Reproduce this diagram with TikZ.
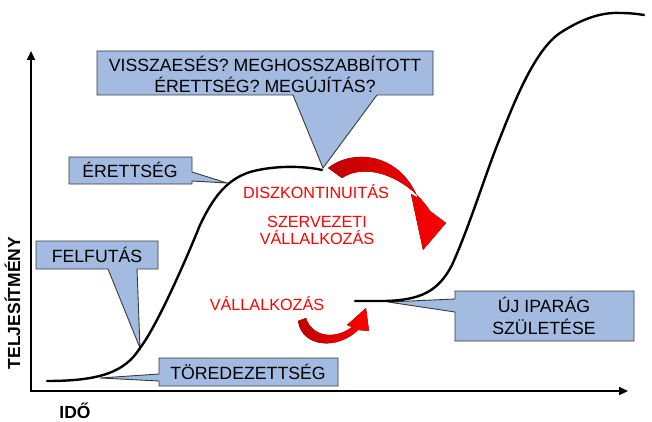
\documentclass[tikz,border=0pt]{standalone}
\usepackage{fontspec}
\setmainfont{Liberation Sans}
\usetikzlibrary{arrows.meta}
\definecolor{callfill}{HTML}{A3BBE0}
\definecolor{callline}{HTML}{3A3A3A}
\definecolor{darkred}{HTML}{C00000}
\begin{document}
\begin{tikzpicture}[x=1pt,y=-1pt,
  callout/.style={fill=callfill, draw=callline, line width=0.9pt, line join=miter},
  blk/.style={font=\fontsize{17.7}{21}\selectfont, anchor=base, inner sep=0pt},
  redtxt/.style={font=\fontsize{16.2}{19}\selectfont, text=red, anchor=base, inner sep=0pt},
  axislbl/.style={font=\bfseries\fontsize{17.5}{21}\selectfont, anchor=base, inner sep=0pt},
  axisline/.style={line width=2.2pt, {Triangle[length=9pt,width=8pt]}-{Triangle[length=9pt,width=8pt]}},
  lifecurve/.style={line width=2.4pt, line cap=round},
  redarrow/.style={left color=darkred, right color=red, draw=none}]
\useasboundingbox (0,0) rectangle (652,422);

% axes
\coordinate (O) at (31,391);
\coordinate (ytop) at (31,51);
\coordinate (xend) at (628,391);
\draw[axisline] (ytop) -- (O) -- (xend);
\node[axislbl, rotate=90] (ylbl) at (20,303) {TELJESÍTMÉNY};
\node[axislbl] (xlbl) at (75,418) {IDŐ};

% callouts
\coordinate (tipV) at (323,168);
\coordinate (tipE) at (227,183);
\coordinate (tipF) at (140,348);
\coordinate (tipT) at (100,378);
\coordinate (tipU) at (388,302);
\draw[callout] (97,51) -- (433,51) -- (433,95) -- (377,95) -- (tipV) -- (293,95) -- (97,95) -- cycle;
\draw[callout] (69,157) -- (192,157) -- (192,172) -- (tipE) -- (192,181) -- (192,184) -- (69,184) -- cycle;
\draw[callout] (36,241) -- (158,241) -- (158,269) -- (137,269) -- (tipF) -- (108,269) -- (36,269) -- cycle;
\draw[callout] (159,358) -- (338,358) -- (338,386) -- (159,386) -- (159,381) -- (tipT) -- (159,374) -- cycle;
\draw[callout] (455,291) -- (634,291) -- (634,341) -- (455,341) -- (455,312) -- (tipU) -- (455,299) -- cycle;

\node[blk] (v1) at (265,72) {VISSZAESÉS? MEGHOSSZABBÍTOTT};
\node[blk] (v2) at (265,93) {ÉRETTSÉG? MEGÚJÍTÁS?};
\node[blk] (er) at (130,177) {ÉRETTSÉG};
\node[blk] (fe) at (97,262) {FELFUTÁS};
\node[blk] (to) at (248,379) {TÖREDEZETTSÉG};
\node[blk] (u1) at (544,312) {ÚJ IPARÁG};
\node[blk] (u2) at (544,334) {SZÜLETÉSE};

% curves
\draw[lifecurve] (47,381) .. controls (100,381) and (125,372) .. (tipF)
  .. controls (158,325) and (190,250) .. (200,225)
  .. controls (212,200) and (225,180) .. (250,172)
  .. controls (275,165) and (305,166) .. (322,170);
\draw[lifecurve] (355,301) -- (385,301) .. controls (420,300) and (438,292) .. (452,265)
  .. controls (470,225) and (485,175) .. (500,138)
  .. controls (515,100) and (535,50) .. (560,33)
  .. controls (580,20) and (600,12) .. (620,13)
  .. controls (630,13) and (638,14) .. (644,15);

% red arrows
\fill[redarrow] (328,168) .. controls (350,150) and (398,150) .. (418,198) -- (411,194) -- (423,250) -- (446,223) -- (430,211) .. controls (412,182) and (370,160) .. (342,178) -- cycle;
\fill[redarrow] (298,321) .. controls (302,348) and (338,350) .. (358,330) -- (369,331) -- (366,308) -- (347,325) -- (352,327) .. controls (335,340) and (312,337) .. (306,318) -- cycle;

% red texts
\node[redtxt] (dk) at (316,198) {DISZKONTINUITÁS};
\node[redtxt] (sz) at (317,227) {SZERVEZETI};
\node[redtxt] (va) at (317,244) {VÁLLALKOZÁS};
\node[redtxt] (vb) at (267,310) {VÁLLALKOZÁS};
\end{tikzpicture}
\end{document}
